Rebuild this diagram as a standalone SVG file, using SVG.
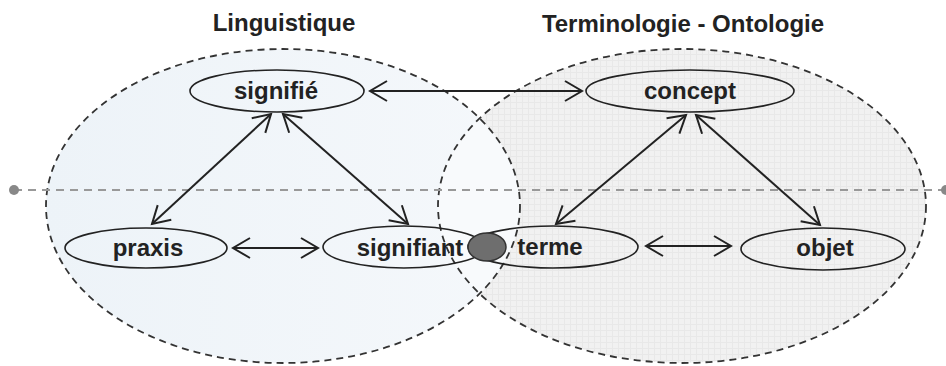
<svg xmlns="http://www.w3.org/2000/svg" width="946" height="366" viewBox="0 0 946 366">
<style>
.area{stroke:#333;stroke-width:1.8;stroke-dasharray:7 5;fill:none}
.node{fill:none;stroke:#222;stroke-width:1.6}
.lbl{font-family:"Liberation Sans",Arial,sans-serif;font-weight:bold;font-size:24px;fill:#222;text-anchor:middle}
.conn{stroke:#222;stroke-width:2;fill:none;marker-start:url(#arr);marker-end:url(#arr)}
</style>
<defs>
<pattern id="grid" width="6" height="6" patternUnits="userSpaceOnUse">
<rect width="6" height="6" fill="#f1f1f1"/>
<path d="M0 0.5H6M0.5 0V6" stroke="#e8e8e8" stroke-width="1"/>
</pattern>
<linearGradient id="blue" x1="0" y1="0" x2="1" y2="0">
<stop offset="0" stop-color="#edf3f8"/>
<stop offset="1" stop-color="#f5f8fb"/>
</linearGradient>
<clipPath id="rightClip">
<ellipse cx="682" cy="206" rx="244" ry="157"/>
</clipPath>
<marker id="arr" markerUnits="userSpaceOnUse" markerWidth="40" markerHeight="40" refX="0" refY="0" orient="auto-start-reverse" overflow="visible">
<path d="M-17 -10L0 0L-17 10" fill="none" stroke="#222" stroke-width="2"/>
</marker>
</defs>
<rect width="946" height="366" fill="#ffffff"/>
<g id="areas">
<ellipse cx="682" cy="206" rx="244" ry="157" fill="url(#grid)"/>
<ellipse cx="283" cy="206" rx="237" ry="157" fill="url(#blue)"/>
<ellipse cx="283" cy="206" rx="237" ry="157" fill="#f8fafc" clip-path="url(#rightClip)"/>
<ellipse class="area" cx="682" cy="206" rx="244" ry="157"/>
<ellipse class="area" cx="283" cy="206" rx="237" ry="157"/>
</g>
<g id="axis">
<line x1="14" y1="190" x2="946" y2="190" stroke="#999" stroke-width="2" stroke-dasharray="8 6"/>
<circle cx="14" cy="190" r="5" fill="#888"/>
<circle cx="946" cy="190" r="5" fill="#888"/>
</g>
<text class="lbl" x="284" y="31">Linguistique</text>
<text class="lbl" x="683" y="32">Terminologie - Ontologie</text>
<g id="connectors">
<line class="conn" x1="370" y1="91" x2="582" y2="91"/>
<line class="conn" x1="271" y1="114" x2="152" y2="224"/>
<line class="conn" x1="283" y1="114" x2="408" y2="224"/>
<line class="conn" x1="233" y1="248" x2="318" y2="248"/>
<line class="conn" x1="686" y1="115" x2="556" y2="224"/>
<line class="conn" x1="696" y1="115" x2="820" y2="225"/>
<line class="conn" x1="646" y1="246" x2="731" y2="246"/>
</g>
<g id="signifie">
<ellipse class="node" cx="277" cy="91" rx="87" ry="21"/>
<text class="lbl" x="276" y="99">signifié</text>
</g>
<g id="praxis">
<ellipse class="node" cx="146" cy="248" rx="81" ry="20"/>
<text class="lbl" x="148" y="256">praxis</text>
</g>
<g id="signifiant">
<ellipse class="node" cx="404" cy="247" rx="81" ry="21"/>
<text class="lbl" x="410" y="256">signifiant</text>
</g>
<g id="concept">
<ellipse class="node" cx="690" cy="91" rx="104" ry="21"/>
<text class="lbl" x="690" y="99">concept</text>
</g>
<g id="terme">
<ellipse class="node" cx="553" cy="247" rx="85" ry="21"/>
<text class="lbl" x="550" y="255">terme</text>
</g>
<g id="objet">
<ellipse class="node" cx="823" cy="249" rx="82" ry="21"/>
<text class="lbl" x="825" y="256">objet</text>
</g>
<g id="junction">
<ellipse cx="487" cy="247" rx="19" ry="14" fill="#6e6e6e" stroke="#333" stroke-width="1.5"/>
</g>
</svg>
